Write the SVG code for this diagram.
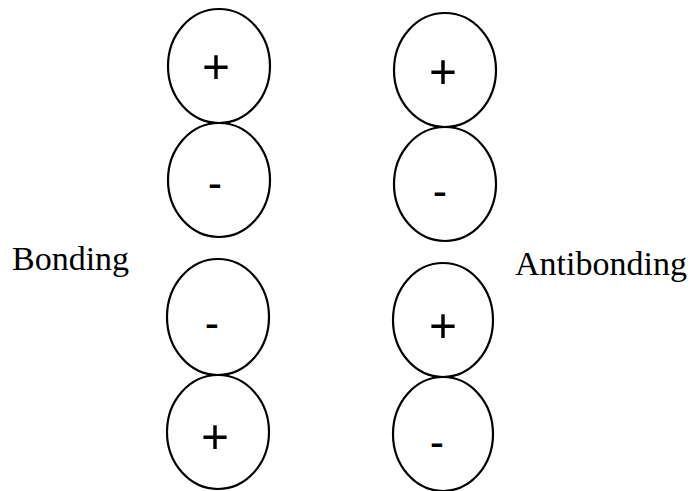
<svg xmlns="http://www.w3.org/2000/svg" width="692" height="491" viewBox="0 0 692 491">
<style>
.orb{fill:none;stroke:#000;stroke-width:2.2}
.sign{font-family:"Liberation Serif",serif;font-size:50px;font-weight:bold;text-anchor:middle;fill:#000}
.minus{font-family:"Liberation Serif",serif;font-size:40px;font-weight:bold;text-anchor:middle;fill:#000}
.lbl{font-family:"Liberation Serif",serif;font-size:34px;fill:#000}
</style>
<rect width="692" height="491" fill="#fff"/>
<g id="bonding-1"><ellipse class="orb" cx="219" cy="66" rx="51" ry="57"/><text class="sign" x="216" y="84">+</text></g>
<g id="bonding-2"><ellipse class="orb" cx="219" cy="180" rx="51" ry="57"/><text class="minus" x="215" y="196">-</text></g>
<g id="bonding-3"><ellipse class="orb" cx="218" cy="317" rx="51" ry="58"/><text class="minus" x="212" y="336">-</text></g>
<g id="bonding-4"><ellipse class="orb" cx="218" cy="432" rx="51" ry="57"/><text class="sign" x="215" y="454">+</text></g>
<g id="antibonding-1"><ellipse class="orb" cx="445" cy="70" rx="51" ry="57"/><text class="sign" x="443" y="89">+</text></g>
<g id="antibonding-2"><ellipse class="orb" cx="445" cy="184" rx="51" ry="57"/><text class="minus" x="440" y="204">-</text></g>
<g id="antibonding-3"><ellipse class="orb" cx="443" cy="320" rx="50" ry="57"/><text class="sign" x="443" y="343">+</text></g>
<g id="antibonding-4"><ellipse class="orb" cx="443" cy="434" rx="50" ry="57"/><text class="minus" x="437" y="455">-</text></g>
<g id="labels">
<text class="lbl" x="12" y="270">Bonding</text>
<text class="lbl" x="515" y="275">Antibonding</text>
</g>
<g id="connectors"></g>
</svg>
